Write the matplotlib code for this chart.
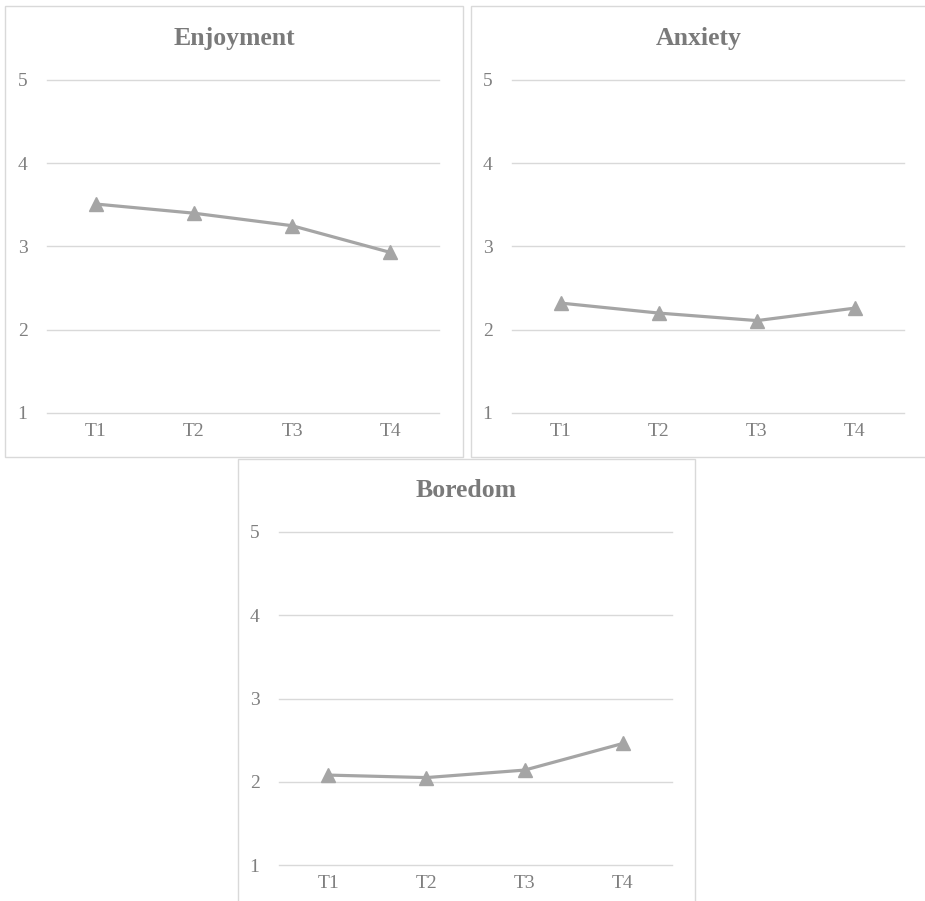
import matplotlib
matplotlib.use('Agg')
import matplotlib.pyplot as plt
from matplotlib.patches import Rectangle

plt.rcParams['font.family'] = ['Liberation Serif', 'DejaVu Serif']

# datos
tiempos = ['T1', 'T2', 'T3', 'T4']
enjoyment = [3.51, 3.40, 3.25, 2.93]
anxiety = [2.32, 2.20, 2.11, 2.26]
boredom = [2.08, 2.05, 2.14, 2.46]
y_ticks = [1, 2, 3, 4, 5]

W, H = 925, 901
col_linea = '#a5a5a5'
col_grid = '#d9d9d9'
col_texto = '#7f7f7f'
col_titulo = '#7a7a7a'

fig = plt.figure(figsize=(W / 100, H / 100), dpi=100)
fig.patch.set_facecolor('white')


def px_box(x0, y0, x1, y1):
    # pixeles (origen arriba-izq) -> fraccion de figura
    return [x0 / W, 1 - y1 / H, (x1 - x0) / W, (y1 - y0) / H]


paneles = [
    ('Enjoyment', enjoyment, (5, 6, 463, 457), (47, 80, 439, 413)),
    ('Anxiety', anxiety, (471, 6, 926, 457), (512, 80, 904, 413)),
    ('Boredom', boredom, (238, 459, 695, 906), (279, 532, 672, 865)),
]

for titulo, valores, caja, area in paneles:
    # marco del grafico
    bx, by, bw, bh = px_box(*caja)
    fig.patches.append(Rectangle((bx, by), bw, bh, transform=fig.transFigure,
                                 fill=False, edgecolor=col_grid, linewidth=1.0))

    ax = fig.add_axes(px_box(*area))
    x = list(range(len(tiempos)))
    ax.plot(x, valores, color=col_linea, linewidth=2.3, marker='^',
            markersize=10.5, markerfacecolor=col_linea, markeredgecolor=col_linea,
            zorder=3)

    ax.set_xlim(-0.5, len(tiempos) - 0.5)
    ax.set_ylim(1, 5)
    ax.set_yticks(y_ticks)
    ax.set_xticks(x)
    ax.set_xticklabels(tiempos)
    ax.yaxis.grid(True, color=col_grid, linewidth=1.0)
    for gl in ax.get_ygridlines():
        gl.set_clip_on(False)
    ax.set_axisbelow(True)
    for s in ax.spines.values():
        s.set_visible(False)
    ax.tick_params(axis='y', length=0, pad=14, labelsize=14, labelcolor=col_texto)
    ax.tick_params(axis='x', length=0, pad=7, labelsize=14, labelcolor=col_texto)
    ax.patch.set_alpha(0)

    # titulo centrado en el marco
    cx = (caja[0] + caja[2]) / 2 / W
    cy = 1 - (caja[1] + 32) / H
    fig.text(cx, cy, titulo, ha='center', va='center', fontsize=18.5,
             fontweight='bold', color=col_titulo)

fig.savefig('out.png', dpi=100)
